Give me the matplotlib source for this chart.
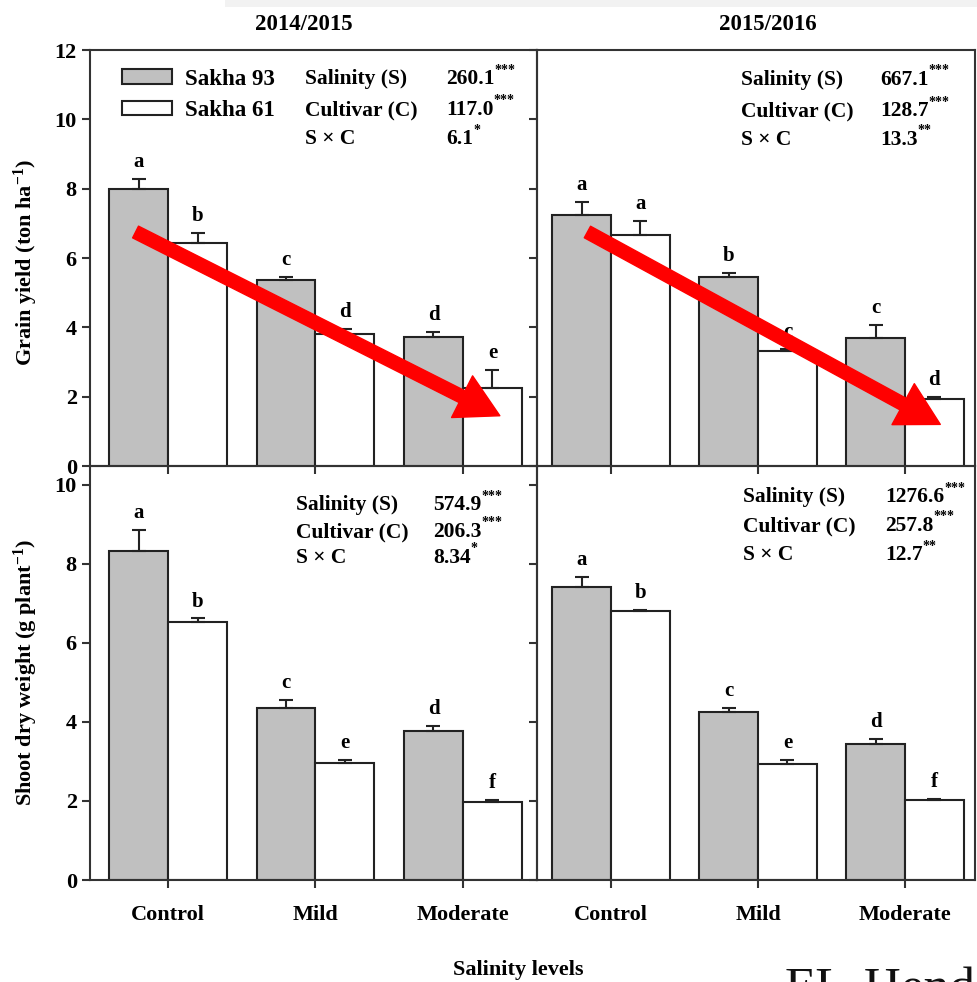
import numpy as np
import matplotlib
matplotlib.use("Agg")
import matplotlib.pyplot as plt
from matplotlib.patches import Patch, Rectangle

plt.rcParams['font.family'] = ['Liberation Serif', 'DejaVu Serif']
plt.rcParams['font.weight'] = 'bold'
plt.rcParams['mathtext.fontset'] = 'custom'
plt.rcParams['mathtext.rm'] = 'Liberation Serif:bold'
plt.rcParams['mathtext.it'] = 'Liberation Serif:italic:bold'
plt.rcParams['mathtext.bf'] = 'Liberation Serif:bold'

# Datos
niveles = ['Control', 'Mild', 'Moderate']
cultivares = ['Sakha 93', 'Sakha 61']
temporadas = ['2014/2015', '2015/2016']

# Rendimiento de grano (ton/ha)
gy14_s93 = [7.98, 5.37, 3.71]
gy14_s93_err = [0.29, 0.09, 0.16]
gy14_s61 = [6.44, 3.81, 2.24]
gy14_s61_err = [0.29, 0.14, 0.53]
gy15_s93 = [7.23, 5.45, 3.70]
gy15_s93_err = [0.39, 0.12, 0.38]
gy15_s61 = [6.66, 3.33, 1.94]
gy15_s61_err = [0.41, 0.05, 0.06]

# Peso seco del brote (g/planta)
sdw14_s93 = [8.33, 4.36, 3.78]
sdw14_s93_err = [0.54, 0.19, 0.13]
sdw14_s61 = [6.53, 2.96, 1.97]
sdw14_s61_err = [0.09, 0.07, 0.06]
sdw15_s93 = [7.42, 4.25, 3.44]
sdw15_s93_err = [0.26, 0.11, 0.13]
sdw15_s61 = [6.81, 2.94, 2.03]
sdw15_s61_err = [0.02, 0.09, 0.03]

# Letras de significancia
let_gy14 = [['a', 'c', 'd'], ['b', 'd', 'e']]
let_gy15 = [['a', 'b', 'c'], ['a', 'c', 'd']]
let_sdw14 = [['a', 'c', 'd'], ['b', 'e', 'f']]
let_sdw15 = [['a', 'c', 'd'], ['b', 'e', 'f']]

# Valores F del ANOVA
anova_nombres = ['Salinity (S)', 'Cultivar (C)', 'S \u00d7 C']
f_gy14 = ['260.1', '117.0', '6.1']
f_gy15 = ['667.1', '128.7', '13.3']
f_sdw14 = ['574.9', '206.3', '8.34']
f_sdw15 = ['1276.6', '257.8', '12.7']
sig_gy14 = ['***', '***', '*']
sig_gy15 = ['***', '***', '**']
sig_sdw14 = ['***', '***', '*']
sig_sdw15 = ['***', '***', '**']

W, H = 978, 982
fig = plt.figure(figsize=(W / 100, H / 100), dpi=100)

def px(x, y):
    return x / W, 1 - y / H

# franja gris clara de la captura original
fig.patches.append(Rectangle(px(225, 7), 753 / W, 7 / H, transform=fig.transFigure,
                             facecolor='#f2f2f2', edgecolor='none'))

# Ejes: abajo primero para que los ticks de arriba queden visibles
ax_bl = fig.add_axes([90 / W, 1 - 880 / H, 447 / W, 414 / H])
ax_br = fig.add_axes([537 / W, 1 - 880 / H, 438 / W, 414 / H])
ax_tl = fig.add_axes([90 / W, 1 - 466 / H, 447 / W, 416 / H])
ax_tr = fig.add_axes([537 / W, 1 - 466 / H, 438 / W, 416 / H])

gris = '#c0c0c0'
borde = '#222222'
x = np.arange(len(niveles))
ancho = 0.4

def dibujar(ax, s93, e93, s61, e61, letras):
    ax.set_facecolor('none')
    for i, (vals, errs, color) in enumerate([(s93, e93, gris), (s61, e61, 'white')]):
        pos = x - ancho / 2 + i * ancho
        ax.bar(pos, vals, ancho, color=color, edgecolor=borde, linewidth=1.5, zorder=2)
        ax.errorbar(pos, vals, yerr=[np.zeros(len(vals)), errs], fmt='none',
                    ecolor=borde, elinewidth=1.5, capsize=5, capthick=1.5, zorder=3)
        for j in range(len(vals)):
            ax.annotate(letras[i][j], xy=(pos[j], vals[j] + errs[j]), xytext=(0, 5),
                        textcoords='offset points', ha='center', va='bottom',
                        fontsize=15, fontweight='bold')
    for s in ax.spines.values():
        s.set_linewidth(1.5)
        s.set_color('#333333')
    ax.tick_params(direction='out', length=6, width=1.5, colors='#333333',
                   labelsize=16, labelcolor='black')
    ax.set_xticks(x)

dibujar(ax_tl, gy14_s93, gy14_s93_err, gy14_s61, gy14_s61_err, let_gy14)
dibujar(ax_tr, gy15_s93, gy15_s93_err, gy15_s61, gy15_s61_err, let_gy15)
dibujar(ax_bl, sdw14_s93, sdw14_s93_err, sdw14_s61, sdw14_s61_err, let_sdw14)
dibujar(ax_br, sdw15_s93, sdw15_s93_err, sdw15_s61, sdw15_s61_err, let_sdw15)

for ax in (ax_tl, ax_bl):
    ax.set_xlim(-0.529, 2.502)
for ax in (ax_tr, ax_br):
    ax.set_xlim(-0.503, 2.476)
    ax.tick_params(labelleft=False)
for ax in (ax_tl, ax_tr):
    ax.set_ylim(0, 12)
    ax.set_yticks(range(0, 13, 2))
    ax.tick_params(labelbottom=False)
for ax in (ax_bl, ax_br):
    ax.set_ylim(0, 10.48)
    ax.set_yticks(range(0, 11, 2))
    ax.set_xticklabels(niveles)
    ax.tick_params(axis='x', pad=12, labelsize=16)

ax_tl.set_ylabel('Grain yield (ton ha$^{-1}$)', fontsize=16, fontweight='bold')
ax_bl.set_ylabel('Shoot dry weight (g plant$^{-1}$)', fontsize=16, fontweight='bold')
ax_tl.yaxis.set_label_coords(-0.112, 0.49)
ax_bl.yaxis.set_label_coords(-0.112, 0.5)

fig.text(*px(304, 25), temporadas[0], ha='center', va='center', fontsize=16.5, fontweight='bold')
fig.text(*px(768, 25), temporadas[1], ha='center', va='center', fontsize=16.5, fontweight='bold')
fig.text(*px(518, 970), 'Salinity levels', ha='center', va='center', fontsize=16, fontweight='bold')

# Leyenda
handles = [Patch(facecolor=gris, edgecolor=borde, linewidth=1.5),
           Patch(facecolor='white', edgecolor=borde, linewidth=1.5)]
ax_tl.legend(handles, cultivares, loc='upper left', bbox_to_anchor=(0.0716, 0.955),
             frameon=False, fontsize=16.5, handlelength=2.2, handleheight=0.6,
             handletextpad=0.55, labelspacing=0.45, borderaxespad=0, borderpad=0)

# Tablas ANOVA
def anova(xl, xv, ys, valores, sig):
    for nombre, v, s, y in zip(anova_nombres, valores, sig, ys):
        fig.text(*px(xl, y), nombre, ha='left', va='center', fontsize=15.5, fontweight='bold')
        t = fig.text(*px(xv, y), v, ha='left', va='center', fontsize=15.5, fontweight='bold')
        fig.add_artist(plt.Annotation(s, xy=(1, 0.95), xycoords=t, ha='left', va='center',
                                      fontsize=10, fontweight='bold', annotation_clip=False))

anova(305, 446, [79, 110, 139], f_gy14, sig_gy14)
anova(741, 880, [80, 111, 140], f_gy15, sig_gy15)
anova(296, 433, [505, 532, 558], f_sdw14, sig_sdw14)
anova(743, 885, [497, 526, 555], f_sdw15, sig_sdw15)

# Flechas rojas de tendencia
flecha = dict(arrowstyle='simple,head_length=1.45,head_width=1.6,tail_width=0.45',
              color='#ff0000', shrinkA=0, shrinkB=0, mutation_scale=21)
ax_tl.annotate('', xy=(2.25, 1.45), xytext=(-0.22, 6.75), arrowprops=flecha, zorder=10)
ax_tr.annotate('', xy=(2.24, 1.2), xytext=(-0.16, 6.75), arrowprops=flecha, zorder=10)

fig.text(785 / W, 1 - 1002 / H, 'EL-Hendawy', ha='left', va='baseline',
         fontsize=37, fontweight='normal', color='#111111')

fig.savefig('out.png', dpi=100)
